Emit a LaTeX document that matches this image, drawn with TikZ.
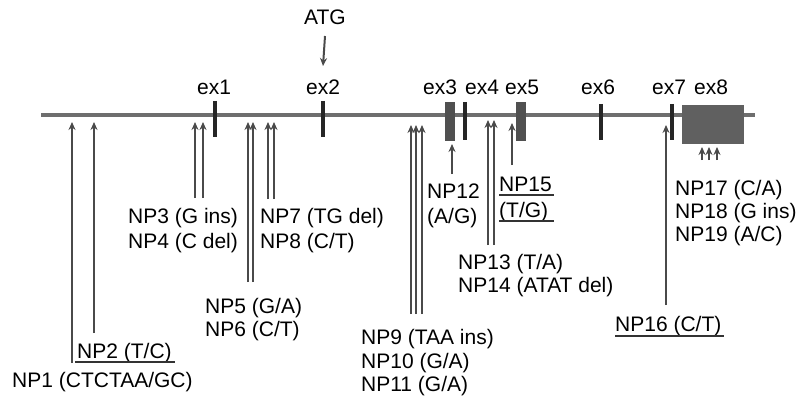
\documentclass[tikz,border=0pt]{standalone}
\usepackage{fontspec}
\setmainfont{Liberation Sans}
\usetikzlibrary{arrows.meta}
\definecolor{lineg}{HTML}{6E6E6E}
\definecolor{arrg}{HTML}{4A4A4A}
\definecolor{exong}{HTML}{505050}
\definecolor{boxg}{HTML}{606060}
\begin{document}
\begin{tikzpicture}[x=1pt,y=-1pt,
  lbl/.style={inner sep=0pt,anchor=west,text height=15pt,text depth=0pt,font=\fontsize{21}{23}\selectfont},
  exlbl/.style={inner sep=0pt,anchor=center,text height=15pt,text depth=0pt,font=\fontsize{21}{23}\selectfont},
  snp/.style={line width=2pt,draw=arrg,-{Stealth[length=8pt,width=7pt]}},
  tick/.style={line width=3.6pt,draw=black!85},
  ul/.style={line width=1.6pt,draw=black!80}]
\useasboundingbox (0,0) rectangle (799,401);
% main line
\coordinate (L0) at (41,115);
\coordinate (L1) at (755,115);
\draw[line width=3.2pt,lineg] (L0) -- (L1);
% exons
\coordinate (e1t) at (215,101); \coordinate (e1b) at (215,137);
\coordinate (e2t) at (323,101); \coordinate (e2b) at (323,137);
\coordinate (e4t) at (465,102); \coordinate (e4b) at (465,140);
\coordinate (e6t) at (601,104); \coordinate (e6b) at (601,140);
\coordinate (e7t) at (672,104); \coordinate (e7b) at (672,140);
\draw[tick] (e1t) -- (e1b);
\draw[tick] (e2t) -- (e2b);
\draw[tick] (e4t) -- (e4b);
\draw[tick] (e6t) -- (e6b);
\draw[tick] (e7t) -- (e7b);
\node[draw=exong,fill=exong,minimum width=9pt,minimum height=38pt,inner sep=0pt] (ex3box) at (450,121) {};
\node[draw=exong,fill=exong,minimum width=9pt,minimum height=38pt,inner sep=0pt] (ex5box) at (521,121) {};
\node[draw=boxg,fill=boxg,minimum width=61pt,minimum height=38pt,inner sep=0pt] (ex8box) at (712.5,124) {};
% exon labels
\node[exlbl] (ex1) at (214,87) {ex1};
\node[exlbl] (ex2) at (323,87) {ex2};
\node[exlbl] (ex3) at (440,87) {ex3};
\node[exlbl] (ex4) at (482,87) {ex4};
\node[exlbl] (ex5) at (522,87) {ex5};
\node[exlbl] (ex6) at (598,87) {ex6};
\node[exlbl] (ex7) at (669,87) {ex7};
\node[exlbl] (ex8) at (711,87) {ex8};
% ATG
\node[exlbl] (atg) at (325,17) {ATG};
\coordinate (atgtip) at (323,66);
\draw[snp] (atg.south |- 0,36) -- (atgtip);
% SNP arrows
\foreach \n/\x/\yb/\yt in {a1/72/363/122, a2/94/333/122, a3/195/198/122, a4/203/198/122,
  a5/248/282/122, a6/253/282/122, a7/268/199/122, a8/274/199/122,
  a9/411/314/125, a10/416/314/125, a11/422/314/125,
  a12/452/174/144, a13/488/245/120, a14/494/245/120, a15/512/165/123,
  a16/666/305/125, a17/702/160/147, a18/709/160/147, a19/717/160/147}{
  \coordinate (\n b) at (\x,\yb);
  \coordinate (\n t) at (\x,\yt);
  \draw[snp] (\n b) -- (\n t);
}
% labels
\node[lbl] (np1) at (12,380) {NP1 (CTCTAA/GC)};
\node[lbl] (np2) at (77,351) {NP2 (T/C)};
\draw[ul] ([xshift=-2pt,yshift=-3.5pt]np2.south west) -- ([xshift=3pt,yshift=-3.5pt]np2.south east);
\node[lbl] (np3) at (128,216) {NP3 (G ins)};
\node[lbl] (np4) at (128,241) {NP4 (C del)};
\node[lbl] (np5) at (205,306) {NP5 (G/A)};
\node[lbl] (np6) at (205,329) {NP6 (C/T)};
\node[lbl] (np7) at (260,216) {NP7 (TG del)};
\node[lbl] (np8) at (260,241) {NP8 (C/T)};
\node[lbl] (np9) at (361,337) {NP9 (TAA ins)};
\node[lbl] (np10) at (361,361) {NP10 (G/A)};
\node[lbl] (np11) at (361,384) {NP11 (G/A)};
\node[lbl] (np12) at (427,191) {NP12};
\node[lbl] (np12b) at (427,216) {(A/G)};
\node[lbl] (np15) at (499,184) {NP15};
\node[lbl] (np15b) at (499,210) {(T/G)};
\draw[ul] ([yshift=-3pt]np15.south west) -- ([xshift=2pt,yshift=-3pt]np15.south east);
\draw[ul] ([yshift=-3.5pt]np15b.south west) -- ([xshift=2pt,yshift=-3.5pt]np15b.south west -| np15.south east);
\node[lbl] (np13) at (458,262) {NP13 (T/A)};
\node[lbl] (np14) at (458,285) {NP14 (ATAT del)};
\node[lbl] (np16) at (615,324) {NP16 (C/T)};
\draw[ul] ([yshift=-4pt]np16.south west) -- ([xshift=2pt,yshift=-4pt]np16.south east);
\node[lbl] (np17) at (675,188) {NP17 (C/A)};
\node[lbl] (np18) at (675,211) {NP18 (G ins)};
\node[lbl] (np19) at (675,234) {NP19 (A/C)};
\end{tikzpicture}
\end{document}
